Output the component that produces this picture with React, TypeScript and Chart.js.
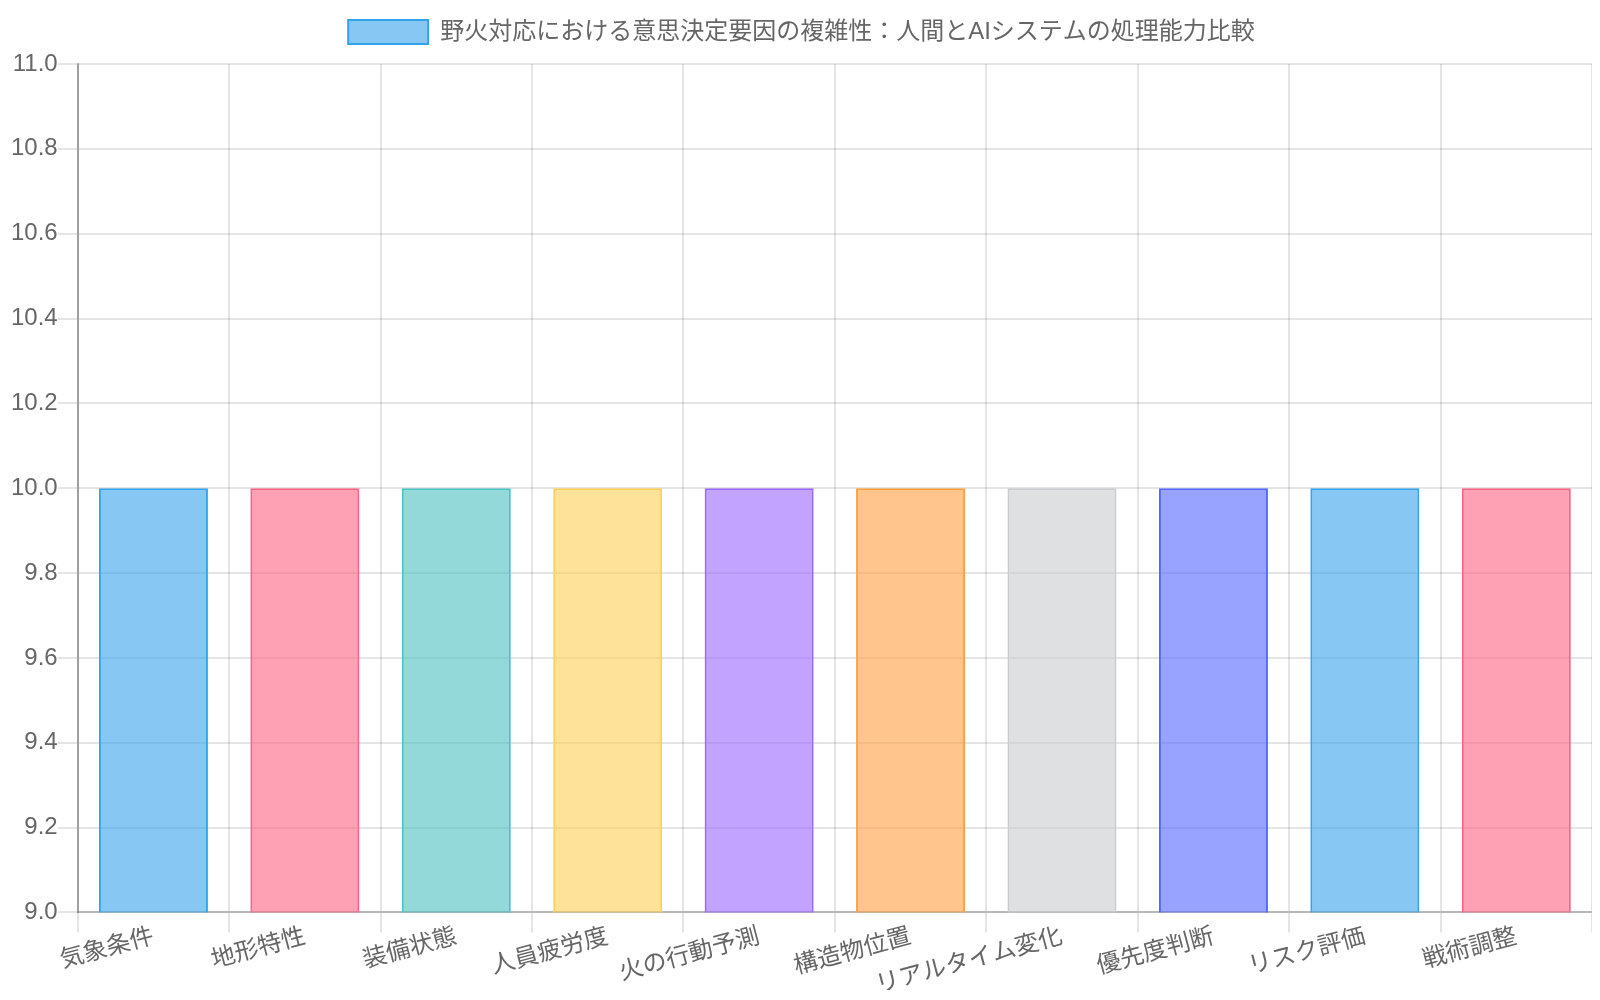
import { useEffect, useRef } from 'react';
import Chart from 'chart.js/auto';

const categories = [
  '気象条件',
  '地形特性',
  '装備状態',
  '人員疲労度',
  '火の行動予測',
  '構造物位置',
  'リアルタイム変化',
  '優先度判断',
  'リスク評価',
  '戦術調整'
];

const complexity = [10, 10, 10, 10, 10, 10, 10, 10, 10, 10];

// y axis range as shown: 9.0 - 11.0, step 0.2
const yMin = 9;
const yMax = 11;
const yStep = 0.2;

const fillColors = [
  'rgba(54, 162, 235, 0.6)',
  'rgba(255, 99, 132, 0.6)',
  'rgba(75, 192, 192, 0.6)',
  'rgba(255, 206, 86, 0.6)',
  'rgba(153, 102, 255, 0.6)',
  'rgba(255, 159, 64, 0.6)',
  'rgba(201, 203, 207, 0.6)',
  'rgba(83, 102, 255, 0.6)',
  'rgba(54, 162, 235, 0.6)',
  'rgba(255, 99, 132, 0.6)'
];

const lineColors = [
  'rgba(54, 162, 235, 1)',
  'rgba(255, 99, 132, 1)',
  'rgba(75, 192, 192, 1)',
  'rgba(255, 206, 86, 1)',
  'rgba(153, 102, 255, 1)',
  'rgba(255, 159, 64, 1)',
  'rgba(201, 203, 207, 1)',
  'rgba(83, 102, 255, 1)',
  'rgba(54, 162, 235, 1)',
  'rgba(255, 99, 132, 1)'
];

const FONT = "'Liberation Sans', Arial, 'Noto Sans CJK JP', sans-serif";

// leaves some room between the legend and the plot
const legendSpacer = {
  id: 'legendSpacer',
  beforeInit(chart: any) {
    if (!chart.legend) return;
    const fit = chart.legend.fit;
    chart.legend.fit = function () {
      fit.call(this);
      this.height += 10;
    };
  }
};

export default function App() {
  const canvasRef = useRef<HTMLCanvasElement>(null);
  const chartRef = useRef<Chart | null>(null);

  useEffect(() => {
    if (!canvasRef.current) return;
    const ctx = canvasRef.current.getContext('2d');
    if (!ctx) return;

    if (chartRef.current) chartRef.current.destroy();

    chartRef.current = new Chart(ctx, {
      type: 'bar',
      data: {
        labels: categories,
        datasets: [
          {
            label: '野火対応における意思決定要因の複雑性：人間とAIシステムの処理能力比較',
            data: complexity,
            backgroundColor: fillColors,
            borderColor: lineColors,
            borderWidth: 2
          }
        ]
      },
      options: {
        animation: false,
        responsive: true,
        maintainAspectRatio: false,
        font: { family: FONT },
        layout: { padding: { left: 3, bottom: 14 } },
        plugins: {
          legend: {
            labels: {
              color: '#666',
              font: { family: FONT, size: 24 },
              boxWidth: 80,
              padding: 12
            }
          }
        },
        scales: {
          x: {
            ticks: {
              color: '#666',
              font: { family: FONT, size: 24 },
              padding: -10,
              minRotation: 15,
              maxRotation: 15
            },
            grid: { color: 'rgba(0, 0, 0, 0.1)', lineWidth: 2, tickLength: 20 },
            border: { color: 'rgba(0, 0, 0, 0.2)', width: 2 }
          },
          y: {
            beginAtZero: false,
            min: yMin,
            max: yMax,
            ticks: {
              stepSize: yStep,
              color: '#666',
              font: { family: FONT, size: 24 },
              padding: 0,
              callback: (v: any) => Number(v).toFixed(1)
            },
            grid: { color: 'rgba(0, 0, 0, 0.1)', lineWidth: 2, tickLength: 20 },
            border: { color: 'rgba(0, 0, 0, 0.3)', width: 2 }
          }
        }
      },
      plugins: [legendSpacer]
    });

    return () => {
      if (chartRef.current) {
        chartRef.current.destroy();
        chartRef.current = null;
      }
    };
  }, []);

  return (
    <div style={{ width: '1584px', height: '984px', overflow: 'hidden' }}>
      <div style={{ position: 'relative', width: '1584px', height: '996px' }}>
        <canvas ref={canvasRef} />
      </div>
    </div>
  );
}
